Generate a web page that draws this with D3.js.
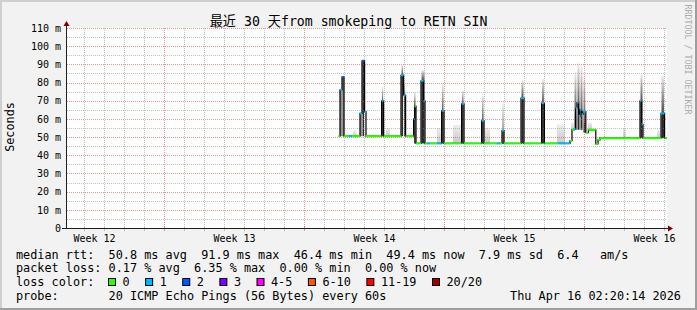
<!DOCTYPE html>
<html>
<head>
<meta charset="utf-8">
<script src="https://cdn.jsdelivr.net/npm/d3@7"></script>
<style>
  body { margin: 0; background: #f2f2f2; }
  svg { display: block; }
  text { font-family: "DejaVu Sans Mono", "Noto Sans CJK SC", monospace; white-space: pre; }
</style>
</head>
<body>
<script>
// days counted from the start of "Week 12"
const xDomain = [2.15, 32.15];
const weekLines = [7, 14, 21, 28];
const weekMid = [3.5, 10.5, 17.5, 24.5, 31.5];
const weekLabels = ["Week 12", "Week 13", "Week 14", "Week 15", "Week 16"];
const yTicks = [0, 10, 20, 30, 40, 50, 60, 70, 80, 90, 100, 110];

// median rtt as steps: [start day, ms, loss count class]
const median = [
  [15.73, 50.5, 0], [15.80, 76, 1], [15.90, 83, 2], [16.00, 50.5, 0], [16.25, 50.5, 1], [16.40, 50.5, 0],
  [16.80, 63, 1], [16.90, 92, 2], [17.03, 64, 1], [17.10, 50.5, 0],
  [17.88, 70, 1], [17.98, 50.5, 0],
  [18.85, 84, 1], [18.98, 73, 1], [19.08, 50.5, 0],
  [19.48, 60, 1], [19.53, 67, 0], [19.60, 46.5, 0],
  [19.85, 81, 1], [19.98, 70, 1], [20.05, 46.5, 0], [20.15, 46.5, 1], [20.30, 46.5, 0],
  [20.65, 46.5, 1], [20.88, 64.5, 1], [21.00, 46.5, 0],
  [21.88, 68.3, 1], [22.00, 46.5, 0],
  [22.88, 59, 1], [23.00, 46.5, 0],
  [23.65, 46.5, 1], [23.80, 46.5, 0], [23.90, 53.6, 1], [24.00, 46.5, 0],
  [24.85, 71.4, 1], [25.00, 46.5, 0],
  [25.88, 68.7, 1], [26.02, 46.5, 0],
  [26.70, 46.5, 1], [27.30, 48, 0], [27.40, 54, 0],
  [27.50, 54.4, 1], [27.58, 66, 1], [27.65, 69, 1], [27.73, 61.7, 1], [27.80, 65, 1], [27.88, 62.5, 1], [27.95, 64, 1],
  [28.09, 52.5, 0], [28.22, 54, 0], [28.59, 46.2, 0], [28.70, 48.5, 0], [28.80, 49.4, 0],
  [30.80, 70, 1], [30.88, 57, 1], [30.95, 49.4, 0],
  [31.85, 63, 1], [32.03, 49.4, 0]
];
const medianEnd = 32.15;

// dense smoke under / above the peaks: [from day, to day, base ms, core top ms, smoke top ms]
const spikes = [
  [15.80, 15.90, 50.5, 76, 76], [15.90, 16.00, 50.5, 83, 84],
  [16.80, 16.90, 50.5, 63, 63], [16.90, 17.03, 50.5, 92, 92],
  [17.88, 17.98, 50.5, 70, 78],
  [18.85, 18.98, 50.5, 84, 90], [18.98, 19.08, 50.5, 73, 80],
  [19.48, 19.60, 46.5, 67, 75],
  [19.85, 20.05, 46.5, 81, 87],
  [20.88, 21.00, 46.5, 64.5, 80],
  [21.88, 22.00, 46.5, 68.3, 76],
  [22.88, 23.00, 46.5, 59, 74],
  [23.90, 24.00, 46.5, 53.6, 69.6],
  [24.85, 25.00, 46.5, 71.4, 81.5],
  [25.88, 26.02, 46.5, 68.7, 82],
  [27.50, 27.65, 54, 62, 86], [27.65, 27.80, 54, 66, 91], [27.80, 27.95, 54, 62, 89], [27.95, 28.09, 52.5, 58, 84],
  [30.80, 30.95, 49.4, 70, 85],
  [31.85, 32.03, 49.4, 63, 84]
];

// faint smoke near the baseline: [from day, to day, low ms, high ms]
const haze = [
  [16.45, 16.60, 50.5, 53.5], [18.10, 18.30, 50.5, 55], [20.65, 20.85, 46.5, 55],
  [21.45, 21.85, 46.5, 56.7], [23.05, 23.30, 46.5, 55], [26.65, 27.05, 46.5, 57],
  [27.35, 27.50, 54, 58], [28.20, 28.40, 54, 58], [29.95, 30.10, 49.4, 55], [31.65, 31.80, 49.4, 54]
];

const lossLabels = ["0", "1", "2", "3", "4-5", "6-10", "11-19", "20/20"];
const lossColors = ["#26ff00", "#00b8ff", "#0059ff", "#7e00ff", "#ff00ff", "#ff5500", "#ff0000", "#a10000"];

const legendRows = [
  "median rtt:  50.8 ms avg  91.9 ms max  46.4 ms min  49.4 ms now  7.9 ms sd  6.4   am/s",
  "packet loss: 0.17 % avg  6.35 % max  0.00 % min  0.00 % now",
  "loss color:",
  "probe:       20 ICMP Echo Pings (56 Bytes) every 60s"
];
const stamp = "Thu Apr 16 02:20:14 2026";
const title = "最近 30 天from smokeping to RETN SIN";

const W = 697, H = 310;
const plot = {left: 67, right: 667, top: 28, bottom: 228};

const svg = d3.select("body").append("svg").attr("width", W).attr("height", H);

// frame with 3d shading
svg.append("rect").attr("width", W).attr("height", H).attr("fill", "#f2f2f2");
svg.append("rect").attr("width", W).attr("height", 2).attr("fill", "#cfcfcf");
svg.append("rect").attr("width", 2).attr("height", H).attr("fill", "#cfcfcf");
svg.append("rect").attr("y", H - 2).attr("width", W).attr("height", 2).attr("fill", "#9e9e9e");
svg.append("rect").attr("x", W - 2).attr("width", 2).attr("height", H).attr("fill", "#9e9e9e");

svg.append("rect")
  .attr("x", plot.left).attr("y", plot.top)
  .attr("width", plot.right - plot.left).attr("height", plot.bottom - plot.top)
  .attr("fill", "#fff");

const x = d3.scaleLinear().domain(xDomain).range([plot.left, plot.right]);
const y = d3.scaleLinear().domain([0, 110]).range([plot.bottom, plot.top]);
const cx = v => Math.floor(v) + 0.5;
const cy = v => Math.round(v) + 0.5;

const defs = svg.append("defs");
const g1 = defs.append("linearGradient").attr("id", "smoke").attr("x1", 0).attr("y1", 1).attr("x2", 0).attr("y2", 0);
g1.append("stop").attr("offset", 0).attr("stop-color", "#4a4a4a");
g1.append("stop").attr("offset", 1).attr("stop-color", "#f2f2f2");
const g2 = defs.append("linearGradient").attr("id", "haze").attr("x1", 0).attr("y1", 1).attr("x2", 0).attr("y2", 0);
g2.append("stop").attr("offset", 0).attr("stop-color", "#c8c8c8");
g2.append("stop").attr("offset", 1).attr("stop-color", "#eeeeee");

// smoke
svg.append("g").selectAll("rect").data(haze).join("rect")
  .attr("x", d => x(d[0])).attr("width", d => x(d[1]) - x(d[0]))
  .attr("y", d => y(d[3])).attr("height", d => y(d[2]) - y(d[3]))
  .attr("fill", "url(#haze)");

svg.append("g").selectAll("rect").data(spikes.filter(d => d[4] > d[3])).join("rect")
  .attr("x", d => x(d[0]) + 0.5).attr("width", d => x(d[1]) - x(d[0]) - 1)
  .attr("y", d => y(d[4])).attr("height", d => y(d[3]) - y(d[4]))
  .attr("fill", "url(#smoke)");

svg.append("g").selectAll("rect").data(spikes).join("rect")
  .attr("x", d => x(d[0]) + 0.5).attr("width", d => x(d[1]) - x(d[0]) - 1)
  .attr("y", d => y(d[3])).attr("height", d => y(d[2]) - y(d[3]))
  .attr("fill", "#2a2a2a");

// grid
const grid = svg.append("g").attr("stroke-dasharray", "1,1").attr("stroke-width", 1);
const minorCol = "rgba(143,143,143,0.55)", majorCol = "rgba(222,79,79,0.6)";
const dayLines = d3.range(Math.ceil(xDomain[0]), xDomain[1]).filter(d => d % 7 !== 0);

grid.selectAll(".hmin").data(d3.range(5, 110, 10)).join("line")
  .attr("x1", plot.left).attr("x2", plot.right)
  .attr("y1", d => cy(y(d))).attr("y2", d => cy(y(d)))
  .attr("stroke", minorCol);
grid.selectAll(".vmin").data(dayLines).join("line")
  .attr("x1", d => cx(x(d))).attr("x2", d => cx(x(d)))
  .attr("y1", plot.top).attr("y2", plot.bottom)
  .attr("stroke", minorCol);
grid.selectAll(".hmaj").data(yTicks.slice(1)).join("line")
  .attr("x1", plot.left).attr("x2", plot.right)
  .attr("y1", d => cy(y(d))).attr("y2", d => cy(y(d)))
  .attr("stroke", majorCol);
grid.selectAll(".vmaj").data(weekLines).join("line")
  .attr("x1", d => cx(x(d))).attr("x2", d => cx(x(d)))
  .attr("y1", plot.top).attr("y2", plot.bottom)
  .attr("stroke", majorCol);

// median line: black steps, loss coloured levels
const steps = median.concat([[medianEnd, median[median.length - 1][1], 0]]);
svg.append("path")
  .attr("d", d3.line().x(d => x(d[0])).y(d => y(d[1])).curve(d3.curveStepAfter)(steps))
  .attr("fill", "none").attr("stroke", "#000").attr("stroke-width", 1.2);

svg.append("g").selectAll("line").data(median).join("line")
  .attr("x1", d => x(d[0]))
  .attr("x2", (d, i) => x(i + 1 < median.length ? median[i + 1][0] : medianEnd))
  .attr("y1", d => y(d[1])).attr("y2", d => y(d[1]))
  .attr("stroke", d => lossColors[d[2]]).attr("stroke-width", 2);

// axes
const yAxis = d3.axisLeft(y).tickValues(yTicks)
  .tickFormat(d => d === 0 ? "0" : d + " m").tickSize(0).tickPadding(6);
const ya = svg.append("g").attr("transform", `translate(${plot.left},0)`).call(yAxis);
ya.select(".domain").remove();
ya.selectAll("text").style("font-size", "10px").attr("fill", "#000");

const xAxis = d3.axisBottom(x).tickValues(weekMid)
  .tickFormat((d, i) => weekLabels[i]).tickSize(0).tickPadding(6.5);
const xa = svg.append("g").attr("transform", `translate(0,${plot.bottom})`).call(xAxis);
xa.select(".domain").remove();
xa.selectAll("text").style("font-size", "10px").attr("fill", "#000");

// small marks on the time axis
svg.append("g").selectAll("line").data(dayLines).join("line")
  .attr("x1", d => cx(x(d))).attr("x2", d => cx(x(d)))
  .attr("y1", plot.bottom - 1).attr("y2", plot.bottom + 3)
  .attr("stroke", minorCol);
svg.append("g").selectAll("line").data(weekLines).join("line")
  .attr("x1", d => cx(x(d))).attr("x2", d => cx(x(d)))
  .attr("y1", plot.bottom - 2).attr("y2", plot.bottom + 3)
  .attr("stroke", majorCol);

const axisCol = "#1f1f1f", arrowCol = "#800000";
svg.append("line").attr("x1", plot.left - 5).attr("x2", plot.right + 2)
  .attr("y1", plot.bottom + 0.5).attr("y2", plot.bottom + 0.5).attr("stroke", axisCol);
svg.append("line").attr("x1", plot.left - 0.5).attr("x2", plot.left - 0.5)
  .attr("y1", plot.bottom + 1).attr("y2", plot.top - 3).attr("stroke", axisCol);
svg.append("path")
  .attr("d", `M${plot.right + 1},${plot.bottom - 2.5}L${plot.right + 6},${plot.bottom + 0.5}L${plot.right + 1},${plot.bottom + 3.5}Z`)
  .attr("fill", arrowCol);
svg.append("path")
  .attr("d", `M${plot.left - 3.5},${plot.top - 2}L${plot.left - 0.5},${plot.top - 7}L${plot.left + 2.5},${plot.top - 2}Z`)
  .attr("fill", arrowCol);

// titles
svg.append("text").attr("x", 348.5).attr("y", 26.3).attr("text-anchor", "middle")
  .style("font-size", "13.2px").text(title);
svg.append("text").attr("transform", "translate(14,127) rotate(-90)").attr("text-anchor", "middle")
  .style("font-size", "11.8px").text("Seconds");
svg.append("text").attr("transform", "translate(684.5,4.5) rotate(90)")
  .style("font-size", "8.3px").attr("fill", "#ababab").text("RRDTOOL / TOBI OETIKER");

// legend
const rowY = [258.5, 272.3, 286.1, 299.9];
svg.append("g").selectAll("text").data(legendRows).join("text")
  .attr("x", 16).attr("y", (d, i) => rowY[i])
  .style("font-size", "11.84px").text(d => d);
svg.append("text").attr("x", 681).attr("y", rowY[3]).attr("text-anchor", "end")
  .style("font-size", "11.84px").text(stamp);

let bx = 108;
lossLabels.forEach((lab, i) => {
  svg.append("rect").attr("x", bx + 0.5).attr("y", 278.5).attr("width", 7).attr("height", 7)
    .attr("fill", lossColors[i]).attr("stroke", "#000");
  const t = svg.append("text").attr("x", bx + 14.5).attr("y", rowY[2])
    .style("font-size", "11.84px").text(lab);
  bx = bx + 14.5 + t.node().getComputedTextLength() + 15.5;
});
</script>
</body>
</html>
